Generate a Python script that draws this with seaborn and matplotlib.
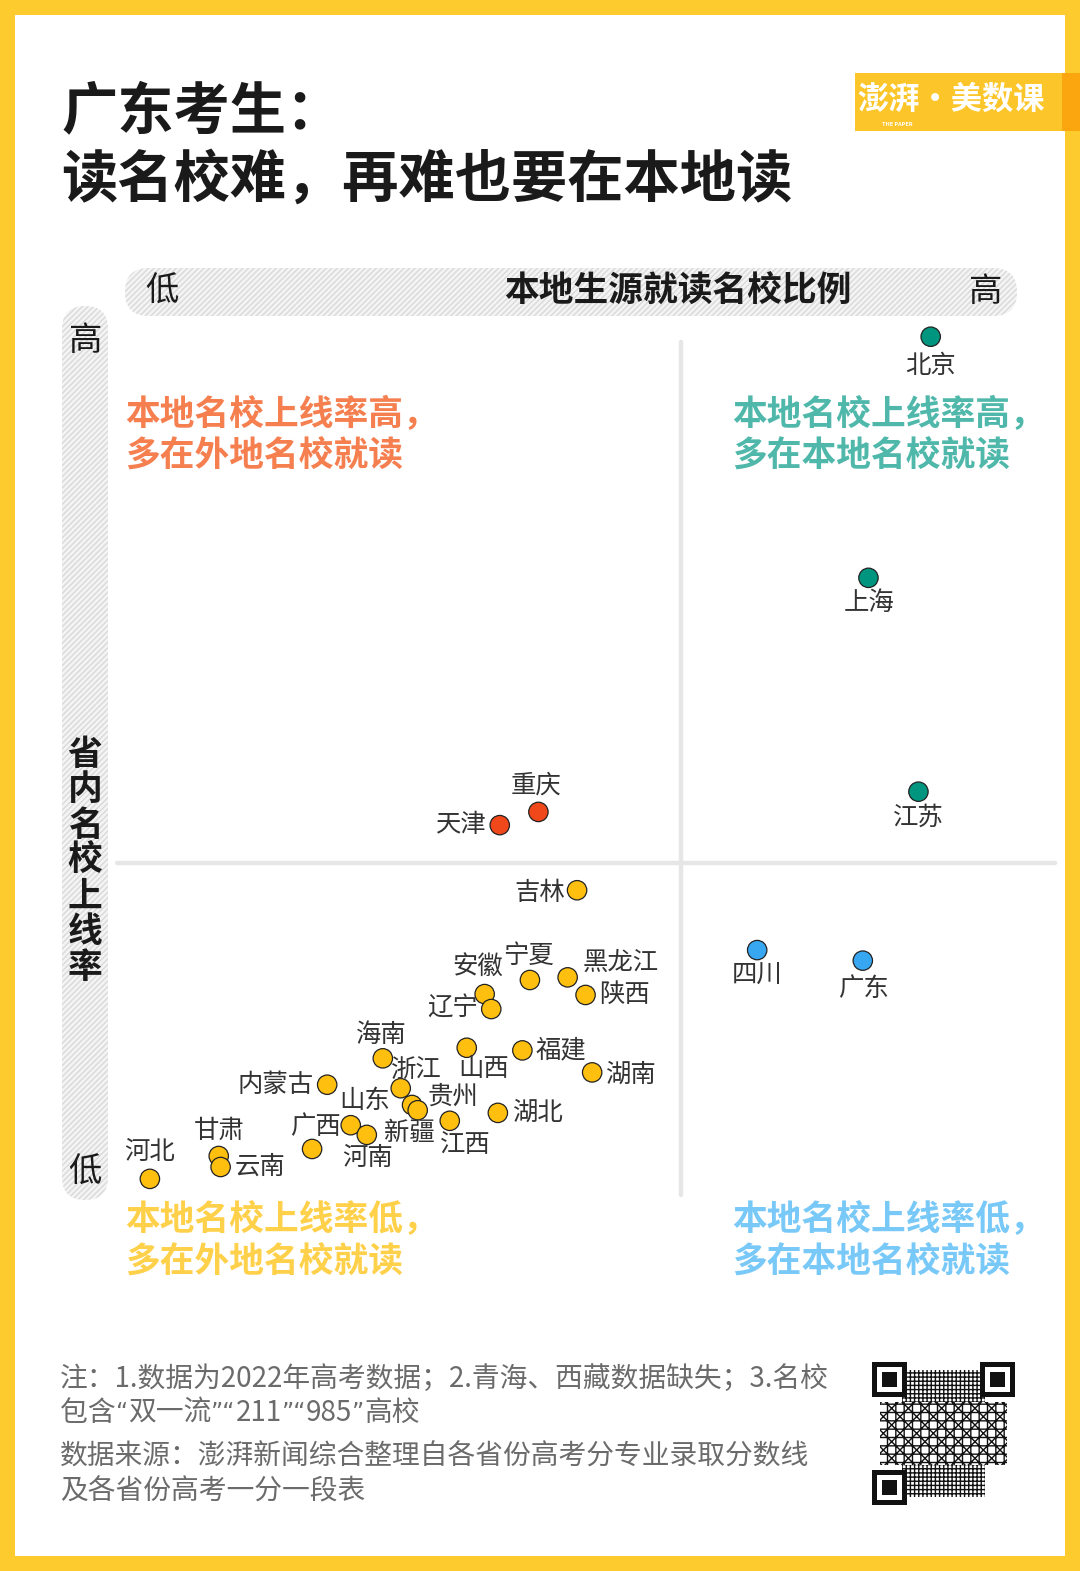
import numpy as np
import pandas as pd
import matplotlib
matplotlib.use("Agg")
import matplotlib.pyplot as plt
from matplotlib.patches import FancyBboxPatch, Rectangle
import seaborn as sns

# ---------------- data ----------------
provinces = ["北京", "上海", "江苏", "重庆", "天津", "吉林", "四川", "广东",
             "宁夏", "黑龙江", "安徽", "辽宁", "陕西", "海南", "山西", "福建",
             "湖南", "内蒙古", "浙江", "贵州", "新疆", "湖北", "江西", "山东",
             "河南", "广西", "甘肃", "云南", "河北"]
local_share = [86.5, 79.9, 85.2, 44.9, 40.8, 49.0, 68.1, 79.3,
               44.0, 48.0, 39.2, 39.9, 49.9, 28.4, 37.3, 43.2,
               50.6, 22.5, 30.3, 31.5, 32.1, 40.6, 35.5, 25.0,
               26.7, 20.9, 11.0, 11.2, 3.7]
pass_rate = [98.1, 70.7, 46.4, 44.1, 42.6, 35.2, 28.4, 27.2,
             25.0, 25.3, 23.4, 21.7, 23.3, 16.1, 17.3, 17.0,
             14.5, 13.1, 12.7, 10.8, 10.2, 9.9, 9.0, 8.5,
             7.4, 5.8, 5.0, 3.75, 2.4]
groups = ["高高", "高高", "高高", "高低", "高低", "低低", "低高", "低高",
          "低低", "低低", "低低", "低低", "低低", "低低", "低低", "低低",
          "低低", "低低", "低低", "低低", "低低", "低低", "低低", "低低",
          "低低", "低低", "低低", "低低", "低低"]
x_split = 60.0
y_split = 38.3

title_lines = ["广东考生：", "读名校难，再难也要在本地读"]
x_axis_title = "本地生源就读名校比例"
y_axis_title = "省内名校上线率"
quadrant_texts = {
    "高低": "本地名校上线率高，\n多在外地名校就读",
    "高高": "本地名校上线率高，\n多在本地名校就读",
    "低低": "本地名校上线率低，\n多在外地名校就读",
    "低高": "本地名校上线率低，\n多在本地名校就读",
}
note_line1 = "注：1.数据为2022年高考数据；2.青海、西藏数据缺失；3.名校"
note_line2_parts = ["包含", "“", "双一流", "”“", "211", "”“", "985", "”", "高校"]
source_lines = ["数据来源：澎湃新闻综合整理自各省份高考分专业录取分数线",
                "及各省份高考一分一段表"]

df = pd.DataFrame({"省份": provinces, "x": local_share, "y": pass_rate, "组": groups})

# ---------------- styles ----------------
palette = {"高高": "#00957f", "高低": "#f0471b", "低低": "#ffbf0f", "低高": "#38a7f2"}
quad_colors = {"高低": "#f57f4f", "高高": "#4fb8aa", "低低": "#ffd04a", "低高": "#78c8f8"}

# label offsets in pixels (dx, dy with +dy = up), ha
label_pos = {
    "北京": (0, -29, "center"), "上海": (1, -25, "center"), "江苏": (0, -26, "center"),
    "重庆": (-2, 26, "center"), "天津": (-13, 0, "right"), "吉林": (-12, -3, "right"),
    "四川": (0, -25, "center"), "广东": (1, -28, "center"), "宁夏": (-1, 24, "center"),
    "黑龙江": (15, 14, "left"), "安徽": (18, 26, "right"), "辽宁": (-13, 0, "right"),
    "陕西": (14, 0, "left"), "海南": (-2, 23, "center"), "山西": (17, -21, "center"),
    "福建": (13, 0, "left"), "湖南": (13, -2, "left"), "内蒙古": (-14, 0, "right"),
    "浙江": (15, 17, "center"), "贵州": (41, 8, "center"), "新疆": (-8, -23, "center"),
    "湖北": (14, 0, "left"), "江西": (16, -24, "center"), "山东": (14, 24, "center"),
    "河南": (1, -23, "center"), "广西": (3, 22, "center"), "甘肃": (0, 25, "center"),
    "云南": (14, 0, "left"), "河北": (0, 27, "center"),
}

sns.set_style("white")
plt.rcParams["font.family"] = ["Noto Sans CJK SC", "DejaVu Sans"]
plt.rcParams["hatch.linewidth"] = 1.0

W, H = 1080, 1571
fig = plt.figure(figsize=(W / 100, H / 100), dpi=100)
fig.patch.set_facecolor("#fecb2e")

bg = fig.add_axes([0, 0, 1, 1])
bg.set_xlim(0, W)
bg.set_ylim(H, 0)
bg.axis("off")
bg.set_zorder(0)

# white panel inside yellow frame
bg.add_patch(Rectangle((15, 15), W - 30, H - 30, facecolor="white", edgecolor="none"))

# title
for i, t in enumerate(title_lines):
    bg.text(61, 112 + i * 68, t, fontsize=40.5, fontweight="black", color="#1a1a1a",
            va="center", ha="left")

# logo
bg.add_patch(Rectangle((855, 73), 207, 58, facecolor="#fcc62a", edgecolor="none"))
bg.add_patch(Rectangle((1062, 73), 18, 58, facecolor="#fca60f", edgecolor="none"))
bg.text(951, 100, "澎湃·美数课", fontsize=22.5, fontweight="bold", color="white",
        ha="center", va="center")
bg.text(897, 124, "THE PAPER", fontsize=4, fontweight="bold", color="white",
        ha="center", va="center")

# header bar (x axis)
hb = FancyBboxPatch((125, 268), 892, 48, boxstyle="round,pad=0,rounding_size=24",
                    facecolor="#f4f4f4", edgecolor="#d9d9d9", linewidth=0, hatch="//////")
bg.add_patch(hb)
bg.text(162, 291, "低", fontsize=24, color="#1a1a1a", ha="center", va="center")
bg.text(985, 291, "高", fontsize=24, color="#1a1a1a", ha="center", va="center")
bg.text(678, 291, x_axis_title, fontsize=25, fontweight="black", color="#1a1a1a",
        ha="center", va="center")

# vertical bar (y axis)
vb = FancyBboxPatch((62, 306), 46, 894, boxstyle="round,pad=0,rounding_size=23",
                    facecolor="#f4f4f4", edgecolor="#d9d9d9", linewidth=0, hatch="//////")
bg.add_patch(vb)
bg.text(85, 340, "高", fontsize=24, color="#1a1a1a", ha="center", va="center")
bg.text(85, 1172, "低", fontsize=24, color="#1a1a1a", ha="center", va="center")
for i, ch in enumerate(y_axis_title):
    bg.text(85, 754 + i * 35.5, ch, fontsize=25, fontweight="black", color="#1a1a1a",
            ha="center", va="center")

# quadrant notes
quad_xy = {"高低": (125, 414), "高高": (732, 414), "低低": (125, 1220), "低高": (732, 1220)}
for k, (qx, qy) in quad_xy.items():
    for j, line in enumerate(quadrant_texts[k].split("\n")):
        bg.text(qx, qy + j * 42, line, fontsize=25, fontweight="black",
                color=quad_colors[k], ha="left", va="center")

# footer
FS = 20.0
foot_col = "#6b6b6b"
bg.text(60, 1379, note_line1, fontsize=FS, color=foot_col, ha="left", va="center")
renderer = fig.canvas.get_renderer()
cur_x = 60.0
for part in note_line2_parts:
    fam = ["DejaVu Sans"] if part.strip("“”") == "" else ["Noto Sans CJK SC", "DejaVu Sans"]
    fs = FS * 0.85 if fam == ["DejaVu Sans"] else FS
    t = bg.text(cur_x, 1413, part, fontsize=fs, color=foot_col, ha="left", va="center",
                family=fam)
    ext = t.get_window_extent(renderer=renderer)
    cur_x += ext.width
for j, line in enumerate(source_lines):
    bg.text(60, 1457 + j * 34, line, fontsize=FS, color=foot_col, ha="left", va="center")

# QR-like decoration
qx0, qy0, qs = 872, 1362, 143
bg.add_patch(Rectangle((qx0 + 30, qy0 + 8), qs - 60, qs - 16, facecolor="white",
                       edgecolor="#111111", linewidth=0, hatch="++++"))
bg.add_patch(Rectangle((qx0 + 8, qy0 + 40), qs - 16, qs - 80, facecolor="white",
                       edgecolor="#111111", linewidth=0, hatch="xx++"))
for fx, fy in [(qx0, qy0), (qx0 + qs - 35, qy0), (qx0, qy0 + qs - 35)]:
    bg.add_patch(Rectangle((fx, fy), 35, 35, facecolor="#111111", edgecolor="none"))
    bg.add_patch(Rectangle((fx + 5, fy + 5), 25, 25, facecolor="white", edgecolor="none"))
    bg.add_patch(Rectangle((fx + 10, fy + 10), 15, 15, facecolor="#111111", edgecolor="none"))

# ---------------- scatter ----------------
ax_l, ax_r, ax_t, ax_b = 115, 1058, 320, 1200
ax = fig.add_axes([ax_l / W, (H - ax_b) / H, (ax_r - ax_l) / W, (ax_b - ax_t) / H])
ax.set_zorder(2)
ax.patch.set_alpha(0)
ax.set_xlim(0, 100)
ax.set_ylim(0, 100)

ax.axvline(x_split, ymin=0.006, ymax=0.975, color="#e6e6e6", lw=3.2, zorder=1)
ax.axhline(y_split, xmin=0.002, xmax=0.997, color="#e6e6e6", lw=3.2, zorder=1)

sns.scatterplot(data=df, x="x", y="y", hue="组", palette=palette, s=195,
                edgecolor="#222222", linewidth=0.9, legend=False, ax=ax, zorder=3)

for _, r in df.iterrows():
    dx, dy, ha = label_pos[r["省份"]]
    ax.annotate(r["省份"], (r["x"], r["y"]), xytext=(dx, dy), textcoords="offset pixels",
                ha=ha, va="center", fontsize=18.3, color="#333333", zorder=4)

ax.set_xlabel("")
ax.set_ylabel("")
ax.set_xticks([])
ax.set_yticks([])
for sp in ax.spines.values():
    sp.set_visible(False)

fig.savefig("out.png", dpi=100, facecolor=fig.get_facecolor())
